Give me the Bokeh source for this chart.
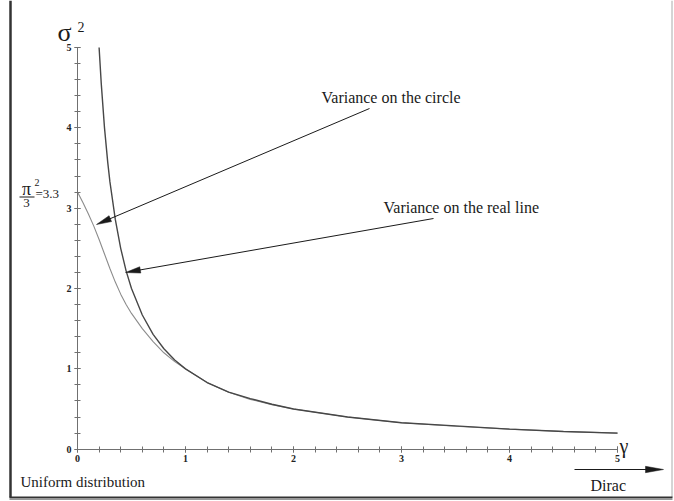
from bokeh.plotting import figure
from bokeh.models import Range1d, LinearAxis, FixedTicker, Label
from bokeh.embed import file_html
from bokeh.resources import INLINE
import math

# ---- data ----
gamma_real = [0.2, 0.22, 0.25, 0.28, 0.3, 0.35, 0.4, 0.45, 0.5, 0.6, 0.7, 0.8, 0.9, 1.0,
              1.2, 1.4, 1.6, 1.8, 2.0, 2.5, 3.0, 3.5, 4.0, 4.5, 5.0]
var_real = [5.0, 4.55, 4.0, 3.57, 3.33, 2.86, 2.5, 2.22, 2.0, 1.67, 1.43, 1.25, 1.11, 1.0,
            0.83, 0.71, 0.63, 0.56, 0.5, 0.4, 0.33, 0.29, 0.25, 0.22, 0.2]

gamma_circle = [0.0, 0.05, 0.1, 0.15, 0.2, 0.25, 0.3, 0.35, 0.4, 0.45, 0.5, 0.6, 0.7, 0.8, 0.9, 1.0,
                1.2, 1.4, 1.6, 1.8, 2.0, 2.5, 3.0, 3.5, 4.0, 4.5, 5.0]
var_circle = [3.2, 3.07, 2.93, 2.78, 2.61, 2.43, 2.25, 2.08, 1.93, 1.8, 1.69, 1.5, 1.34, 1.2, 1.09, 1.0,
              0.83, 0.71, 0.62, 0.555, 0.5, 0.4, 0.33, 0.285, 0.25, 0.22, 0.2]

major_ticks = [0, 1, 2, 3, 4, 5]
minor_ticks = [0.0, 0.2, 0.4, 0.6, 0.8, 1.0, 1.2, 1.4, 1.6, 1.8, 2.0, 2.2, 2.4, 2.6, 2.8, 3.0,
               3.2, 3.4, 3.6, 3.8, 4.0, 4.2, 4.4, 4.6, 4.8, 5.0]

# ---- page-pixel <-> data helpers (layout only) ----
PX0, PXS = 77.0, 108.0
PY0, PYS = 448.7, 80.34
def gx(px):
    return (px - PX0) / PXS
def gy(py):
    return (PY0 - py) / PYS

W, H = 674, 501
p = figure(width=W, height=H, x_range=Range1d(gx(0), gx(W)), y_range=Range1d(gy(H), gy(0)),
           x_axis_type=None, y_axis_type=None, toolbar_location=None, output_backend="svg",
           min_border=0, outline_line_color=None, background_fill_color="white",
           border_fill_color="white")

SERIF = "Liberation Serif"
AXC = "#707070"
for side in ("left", "below"):
    ax = LinearAxis(fixed_location=0, bounds=(0, 5),
                    ticker=FixedTicker(ticks=major_ticks, minor_ticks=minor_ticks))
    ax.axis_line_color = AXC
    ax.major_tick_line_color = AXC
    ax.minor_tick_line_color = AXC
    ax.major_tick_in = 3
    ax.major_tick_out = 3
    ax.minor_tick_in = 3
    ax.minor_tick_out = 3
    ax.major_label_text_font = SERIF
    ax.major_label_text_font_size = "10px"
    ax.major_label_text_font_style = "bold"
    ax.major_label_text_color = "#222222"
    ax.major_label_standoff = 3
    p.add_layout(ax, side)

# curves
p.line(gamma_circle, var_circle, line_color="#8c8c8c", line_width=1.1)
p.line(gamma_real, var_real, line_color="#474747", line_width=1.4)

# arrows (annotation geometry)
def arrow(start, tip, L=15.0, w=3.2, color="#1a1a1a", lw=1.0):
    sx, sy = start
    tx, ty = tip
    dx, dy = tx - sx, ty - sy
    n = math.hypot(dx, dy)
    ux, uy = dx / n, dy / n
    bx, by = tx - L * ux, ty - L * uy
    nx, ny = -uy, ux
    p.line([gx(sx), gx(bx + 2 * ux)], [gy(sy), gy(by + 2 * uy)], line_color=color, line_width=lw)
    p.patch([gx(tx), gx(bx + w * nx), gx(bx - w * nx)],
            [gy(ty), gy(by + w * ny), gy(by - w * ny)], fill_color=color, line_color=color, line_width=0.5)

arrow((369, 108), (96, 224))
arrow((433, 218), (125, 272))
arrow((574, 469), (663, 469), L=18, w=3.2)

def label(text, px, py, size, align="left", color="#1a1a1a"):
    p.add_layout(Label(x=gx(px), y=gy(py), text=text, text_font=SERIF, text_font_size=size,
                       text_align=align, text_baseline="middle", text_color=color))

label("Variance on the circle", 321, 97, "16px")
label("Variance on the real line", 383, 207, "16px")
label("Uniform distribution", 20, 481.5, "15px")
label("Dirac", 590, 485, "16px")
label("σ", 57, 32, "26px")
label("2", 77, 26, "14px")
label("γ", 619, 445, "20px")

# pi^2/3 = 3.3
label("π", 26, 188, "18px", align="center")
label("2", 34, 182, "10px")
p.line([gx(19), gx(34)], [gy(196.5), gy(196.5)], line_color="#1a1a1a", line_width=1)
label("3", 26, 202.5, "13px", align="center")
label("=3.3", 35, 192.5, "13px")

# frame (left, right, bottom)
p.line([gx(10), gx(10)], [gy(0), gy(497)], line_color="#333333", line_width=2.5)
p.line([gx(671.5), gx(671.5)], [gy(0), gy(497)], line_color="#aaaaaa", line_width=1)
p.line([gx(9), gx(672)], [gy(497), gy(497)], line_color="#333333", line_width=2)
p.line([gx(9), gx(672)], [gy(499), gy(499)], line_color="#999999", line_width=1)

open("out.html", "w").write(file_html(p, INLINE))
